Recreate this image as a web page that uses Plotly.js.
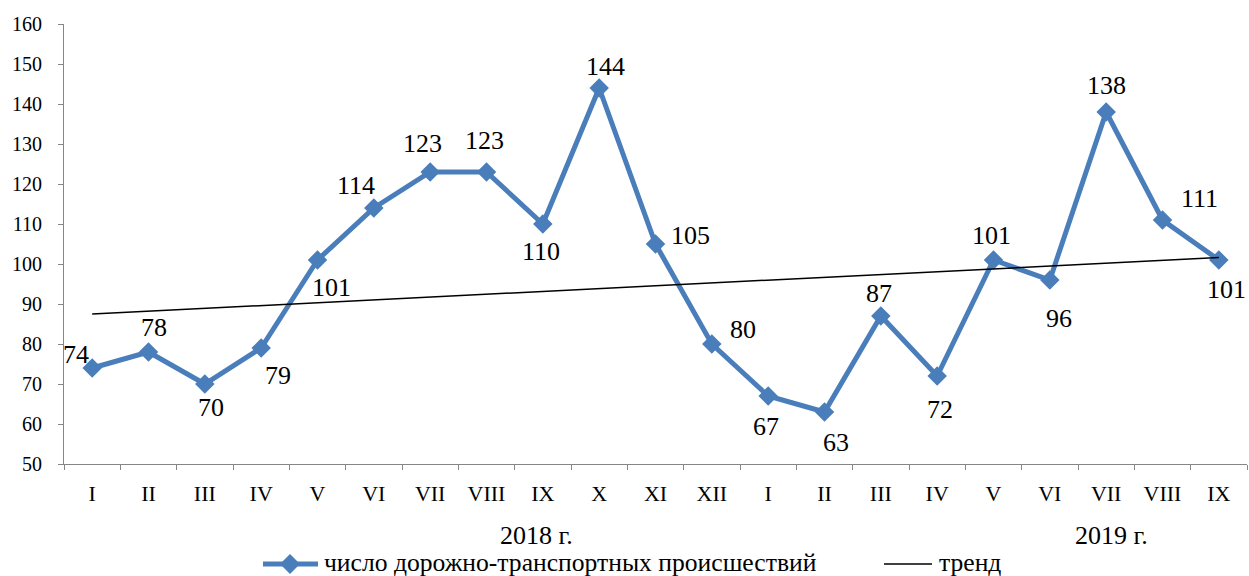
<!DOCTYPE html>
<html>
<head>
<meta charset="utf-8">
<script src="https://cdn.plot.ly/plotly-3.0.1.min.js"></script>
<style>
  html, body { margin: 0; padding: 0; background: #ffffff; }
  #chart { width: 1249px; height: 576px; }
</style>
</head>
<body>
<div id="chart"></div>
<script>
// ---- data ----
const months = ['I','II','III','IV','V','VI','VII','VIII','IX','X','XI','XII',
                'I','II','III','IV','V','VI','VII','VIII','IX'];
const accidents = [74, 78, 70, 79, 101, 114, 123, 123, 110, 144, 105, 80,
                   67, 63, 87, 72, 101, 96, 138, 111, 101];
const trendValues = [87.5, 101.6];          // trend line at first and last month
const yearLabels = ['2018 г.', '2019 г.'];
const seriesName = 'число дорожно-транспортных происшествий';
const trendName = 'тренд';

// ---- presentation ----
const FONT = 'Liberation Serif';
const BLUE = '#4A7EBB';
const AXIS = '#868686';
const W = 1249, H = 576;
const M = { l: 64, r: 2, t: 24, b: 112 };
const PW = W - M.l - M.r, PH = H - M.t - M.b;
const px2paperX = px => (px - M.l) / PW;
const px2paperY = py => (H - M.b - py) / PH;

// label offsets in px [dx, dy(down)] per point, to mimic the reference placement
const labelOffsets = [
  [-16,-14],[5,-25],[6,23],[17,27],[14,27],[-18,-23],[-8,-29],[-2,-32],[-2,27],[6,-22],
  [35,-9],[31,-15],[-2,30],[11,30],[-2,-23],[3,33],[-2,-25],[9,38],[0,-27],[37,-22],[8,29]
];
// year labels positions (in category units)
const yearPos = [8.88, 19.09];

const xIdx = months.map((m, i) => i + 1);
const boundaries = [];
for (let i = 0; i <= months.length; i++) boundaries.push(i + 0.5);

const dataTrace = {
  type: 'scatter', mode: 'lines+markers',
  x: xIdx, y: accidents, name: seriesName,
  line: { color: BLUE, width: 5 },
  marker: { symbol: 'diamond', size: 15, color: BLUE },
  hoverinfo: 'skip', showlegend: false
};
const trendTrace = {
  type: 'scatter', mode: 'lines',
  x: [xIdx[0], xIdx[xIdx.length - 1]], y: trendValues, name: trendName,
  line: { color: '#000000', width: 1.5 },
  hoverinfo: 'skip', showlegend: false
};

const annotations = accidents.map((v, i) => ({
  x: xIdx[i], y: v, xref: 'x', yref: 'y',
  text: String(v), showarrow: false,
  xanchor: 'center', yanchor: 'middle',
  xshift: labelOffsets[i][0], yshift: -labelOffsets[i][1],
  font: { family: FONT, size: 26, color: '#000000' }
}));
yearLabels.forEach((t, k) => {
  annotations.push({
    x: yearPos[k], y: px2paperY(535), xref: 'x', yref: 'paper',
    text: t, showarrow: false, xanchor: 'center', yanchor: 'middle',
    font: { family: FONT, size: 26, color: '#000000' }
  });
});

// ---- legend (drawn by hand to match the reference's long legend keys) ----
const legY = 562;
annotations.push({
  x: px2paperX(322), y: px2paperY(legY), xref: 'paper', yref: 'paper',
  text: seriesName, showarrow: false, xanchor: 'left', yanchor: 'middle',
  font: { family: FONT, size: 25.6, color: '#000000' }
});
annotations.push({
  x: px2paperX(937), y: px2paperY(legY), xref: 'paper', yref: 'paper',
  text: trendName, showarrow: false, xanchor: 'left', yanchor: 'middle',
  font: { family: FONT, size: 25.6, color: '#000000' }
});
const legLineY = px2paperY(legY + 2);
const d = 10; // half-diagonal of legend diamond in px
const cx = 290, cy = legY + 2;
const shapes = [
  { type: 'line', xref: 'paper', yref: 'paper', x0: px2paperX(263), x1: px2paperX(318),
    y0: legLineY, y1: legLineY, line: { color: BLUE, width: 5 } },
  { type: 'path', xref: 'paper', yref: 'paper',
    path: `M ${px2paperX(cx)} ${px2paperY(cy - d)} L ${px2paperX(cx + d)} ${px2paperY(cy)} L ${px2paperX(cx)} ${px2paperY(cy + d)} L ${px2paperX(cx - d)} ${px2paperY(cy)} Z`,
    fillcolor: BLUE, line: { color: BLUE, width: 0 } },
  { type: 'line', xref: 'paper', yref: 'paper', x0: px2paperX(884), x1: px2paperX(932),
    y0: legLineY, y1: legLineY, line: { color: '#000000', width: 1.5 } }
];

const layout = {
  width: W, height: H,
  margin: M,
  paper_bgcolor: '#ffffff', plot_bgcolor: '#ffffff',
  showlegend: false,
  xaxis: {
    range: [0.5, months.length + 0.5],
    tickmode: 'array', tickvals: xIdx, ticktext: months,
    ticks: '', showgrid: false, zeroline: false,
    showline: true, linecolor: AXIS, linewidth: 1,
    ticklabelstandoff: 10,
    tickfont: { family: FONT, size: 22, color: '#000000' },
    minor: { tickmode: 'array', tickvals: boundaries, ticks: 'outside', ticklen: 5, tickcolor: AXIS, showgrid: false },
    fixedrange: true
  },
  yaxis: {
    range: [50, 160], dtick: 10, tick0: 50,
    ticks: 'outside', ticklen: 5, tickcolor: AXIS,
    showgrid: false, zeroline: false,
    showline: true, linecolor: AXIS, linewidth: 1,
    ticklabelstandoff: 12,
    tickfont: { family: FONT, size: 20, color: '#000000' },
    fixedrange: true
  },
  annotations: annotations,
  shapes: shapes
};

Plotly.newPlot('chart', [dataTrace, trendTrace], layout, { staticPlot: true, displayModeBar: false });
</script>
</body>
</html>
